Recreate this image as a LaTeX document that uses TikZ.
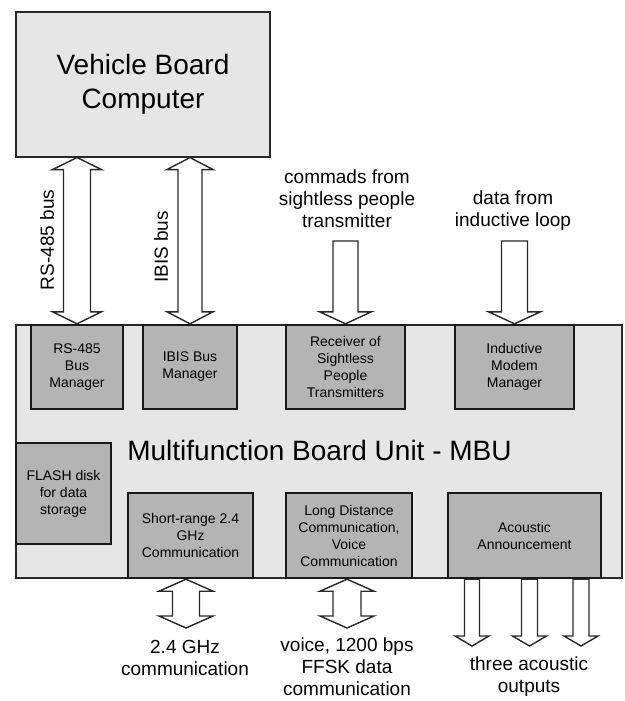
\documentclass[tikz,border=0pt]{standalone}
\usepackage{fontspec}
\setmainfont{Liberation Sans}
\usetikzlibrary{calc}
\definecolor{lightbox}{RGB}{230,230,230}
\definecolor{darkbox}{RGB}{180,180,180}
\definecolor{edge}{RGB}{40,40,40}
\tikzset{
  outerbox/.style={draw=edge, line width=1.1pt, fill=lightbox, inner sep=0pt},
  unitbox/.style={draw=black!90, line width=2.4pt, fill=darkbox, inner sep=0pt, align=center,
    font=\fontsize{14}{17}\selectfont},
  lbl/.style={align=center, inner sep=0pt, font=\fontsize{19}{22}\selectfont},
  blockarrow/.style={draw=edge, line width=1.4pt, fill=white, line join=miter},
}
% double block arrow: #1 top tip, #2 bottom tip, #3 shaft half width, #4 head half width, #5 head length
\newcommand{\blockdbl}[5]{%
  \draw[blockarrow] let \p1=(#1), \p2=(#2) in
    (\x1,\y1) -- (\x1+#4pt,\y1-#5pt) -- (\x1+#3pt,\y1-#5pt) -- (\x1+#3pt,\y2+#5pt)
    -- (\x1+#4pt,\y2+#5pt) -- (\x1,\y2) -- (\x1-#4pt,\y2+#5pt) -- (\x1-#3pt,\y2+#5pt)
    -- (\x1-#3pt,\y1-#5pt) -- (\x1-#4pt,\y1-#5pt) -- cycle;}
% single downward block arrow: #1 shaft top, #2 tip
\newcommand{\blockdown}[5]{%
  \draw[blockarrow] let \p1=(#1), \p2=(#2) in
    (\x1-#3pt,\y1) -- (\x1+#3pt,\y1) -- (\x1+#3pt,\y2+#5pt) -- (\x1+#4pt,\y2+#5pt)
    -- (\x1,\y2) -- (\x1-#4pt,\y2+#5pt) -- (\x1-#3pt,\y2+#5pt) -- cycle;}
\begin{document}
\begin{tikzpicture}[x=1pt,y=-1pt]
\useasboundingbox (0,0) rectangle (624,701);

% main boxes
\node[outerbox, minimum width=254pt, minimum height=145pt, align=center,
      font=\fontsize{28}{34}\selectfont] (vbc) at (143,84.5) {Vehicle Board\\Computer};
\node[outerbox, minimum width=606pt, minimum height=253pt] (mbu) at (319,451.5) {};
\node[inner sep=0pt, anchor=base, font=\fontsize{28}{34}\selectfont] (title) at (319.5,460)
  {Multifunction Board Unit - MBU};

% inner units
\node[unitbox, minimum width=92pt,  minimum height=84pt] (rs)  at (77,367)    {RS-485\\Bus\\Manager};
\node[unitbox, minimum width=94pt,  minimum height=84pt] (ibis) at (190,367)  {IBIS Bus\\Manager};
\node[unitbox, minimum width=119pt, minimum height=84pt] (rx)  at (345.5,367) {Receiver of\\Sightless\\People\\Transmitters};
\node[unitbox, minimum width=119pt, minimum height=84pt] (ind) at (514.5,367) {Inductive\\Modem\\Manager};
\node[unitbox, minimum width=95pt,  minimum height=101pt] (fl) at (63.5,493.5) {FLASH disk\\for data\\storage};
\node[unitbox, minimum width=125pt, minimum height=85pt] (sr)  at (190.5,535.5) {Short-range 2.4\\GHz\\Communication};
\node[unitbox, minimum width=126pt, minimum height=85pt] (ld)  at (349,535.5)  {Long Distance\\Communication,\\Voice\\Communication};
\node[unitbox, minimum width=153pt, minimum height=85pt] (ac)  at (524.5,535.5) {Acoustic\\Announcement};

% free arrow ends
\coordinate (rxin)  at (345.5,241);
\coordinate (indin) at (514.5,241);
\coordinate (srout) at (186,628);
\coordinate (ldout) at (347,628);
\coordinate (ao1) at (472,646);
\coordinate (ao2) at (529.5,646);
\coordinate (ao3) at (581,646);

% arrows
\blockdbl{vbc.south -| rs.north}{rs.north}{13.5}{24.5}{12}
\blockdbl{vbc.south -| ibis.north}{ibis.north}{12}{23}{12}
\blockdown{rxin}{rx.north}{12.5}{26}{12}
\blockdown{indin}{ind.north}{13}{26}{12}
\blockdbl{srout |- sr.south}{srout}{13.5}{27}{12}
\blockdbl{ldout |- ld.south}{ldout}{14}{27}{12}
\blockdown{ao1 |- ac.south}{ao1}{7.5}{17}{10}
\blockdown{ao2 |- ac.south}{ao2}{8}{17}{10}
\blockdown{ao3 |- ac.south}{ao3}{8}{17}{10}

% labels
\node[lbl, rotate=90] (l1) at (47,240) {RS-485 bus};
\node[lbl, rotate=90] (l2) at (161,247) {IBIS bus};
\node[lbl] (l3) at (347,199) {commads from\\sightless people\\transmitter};
\node[lbl] (l4) at (513,211) {data from\\inductive loop};
\node[lbl] (l5) at (185,658) {2.4 GHz\\communication};
\node[lbl] (l6) at (347,667) {voice, 1200 bps\\FFSK data\\communication};
\node[lbl] (l7) at (529,677) {three acoustic\\outputs};
\end{tikzpicture}
\end{document}
